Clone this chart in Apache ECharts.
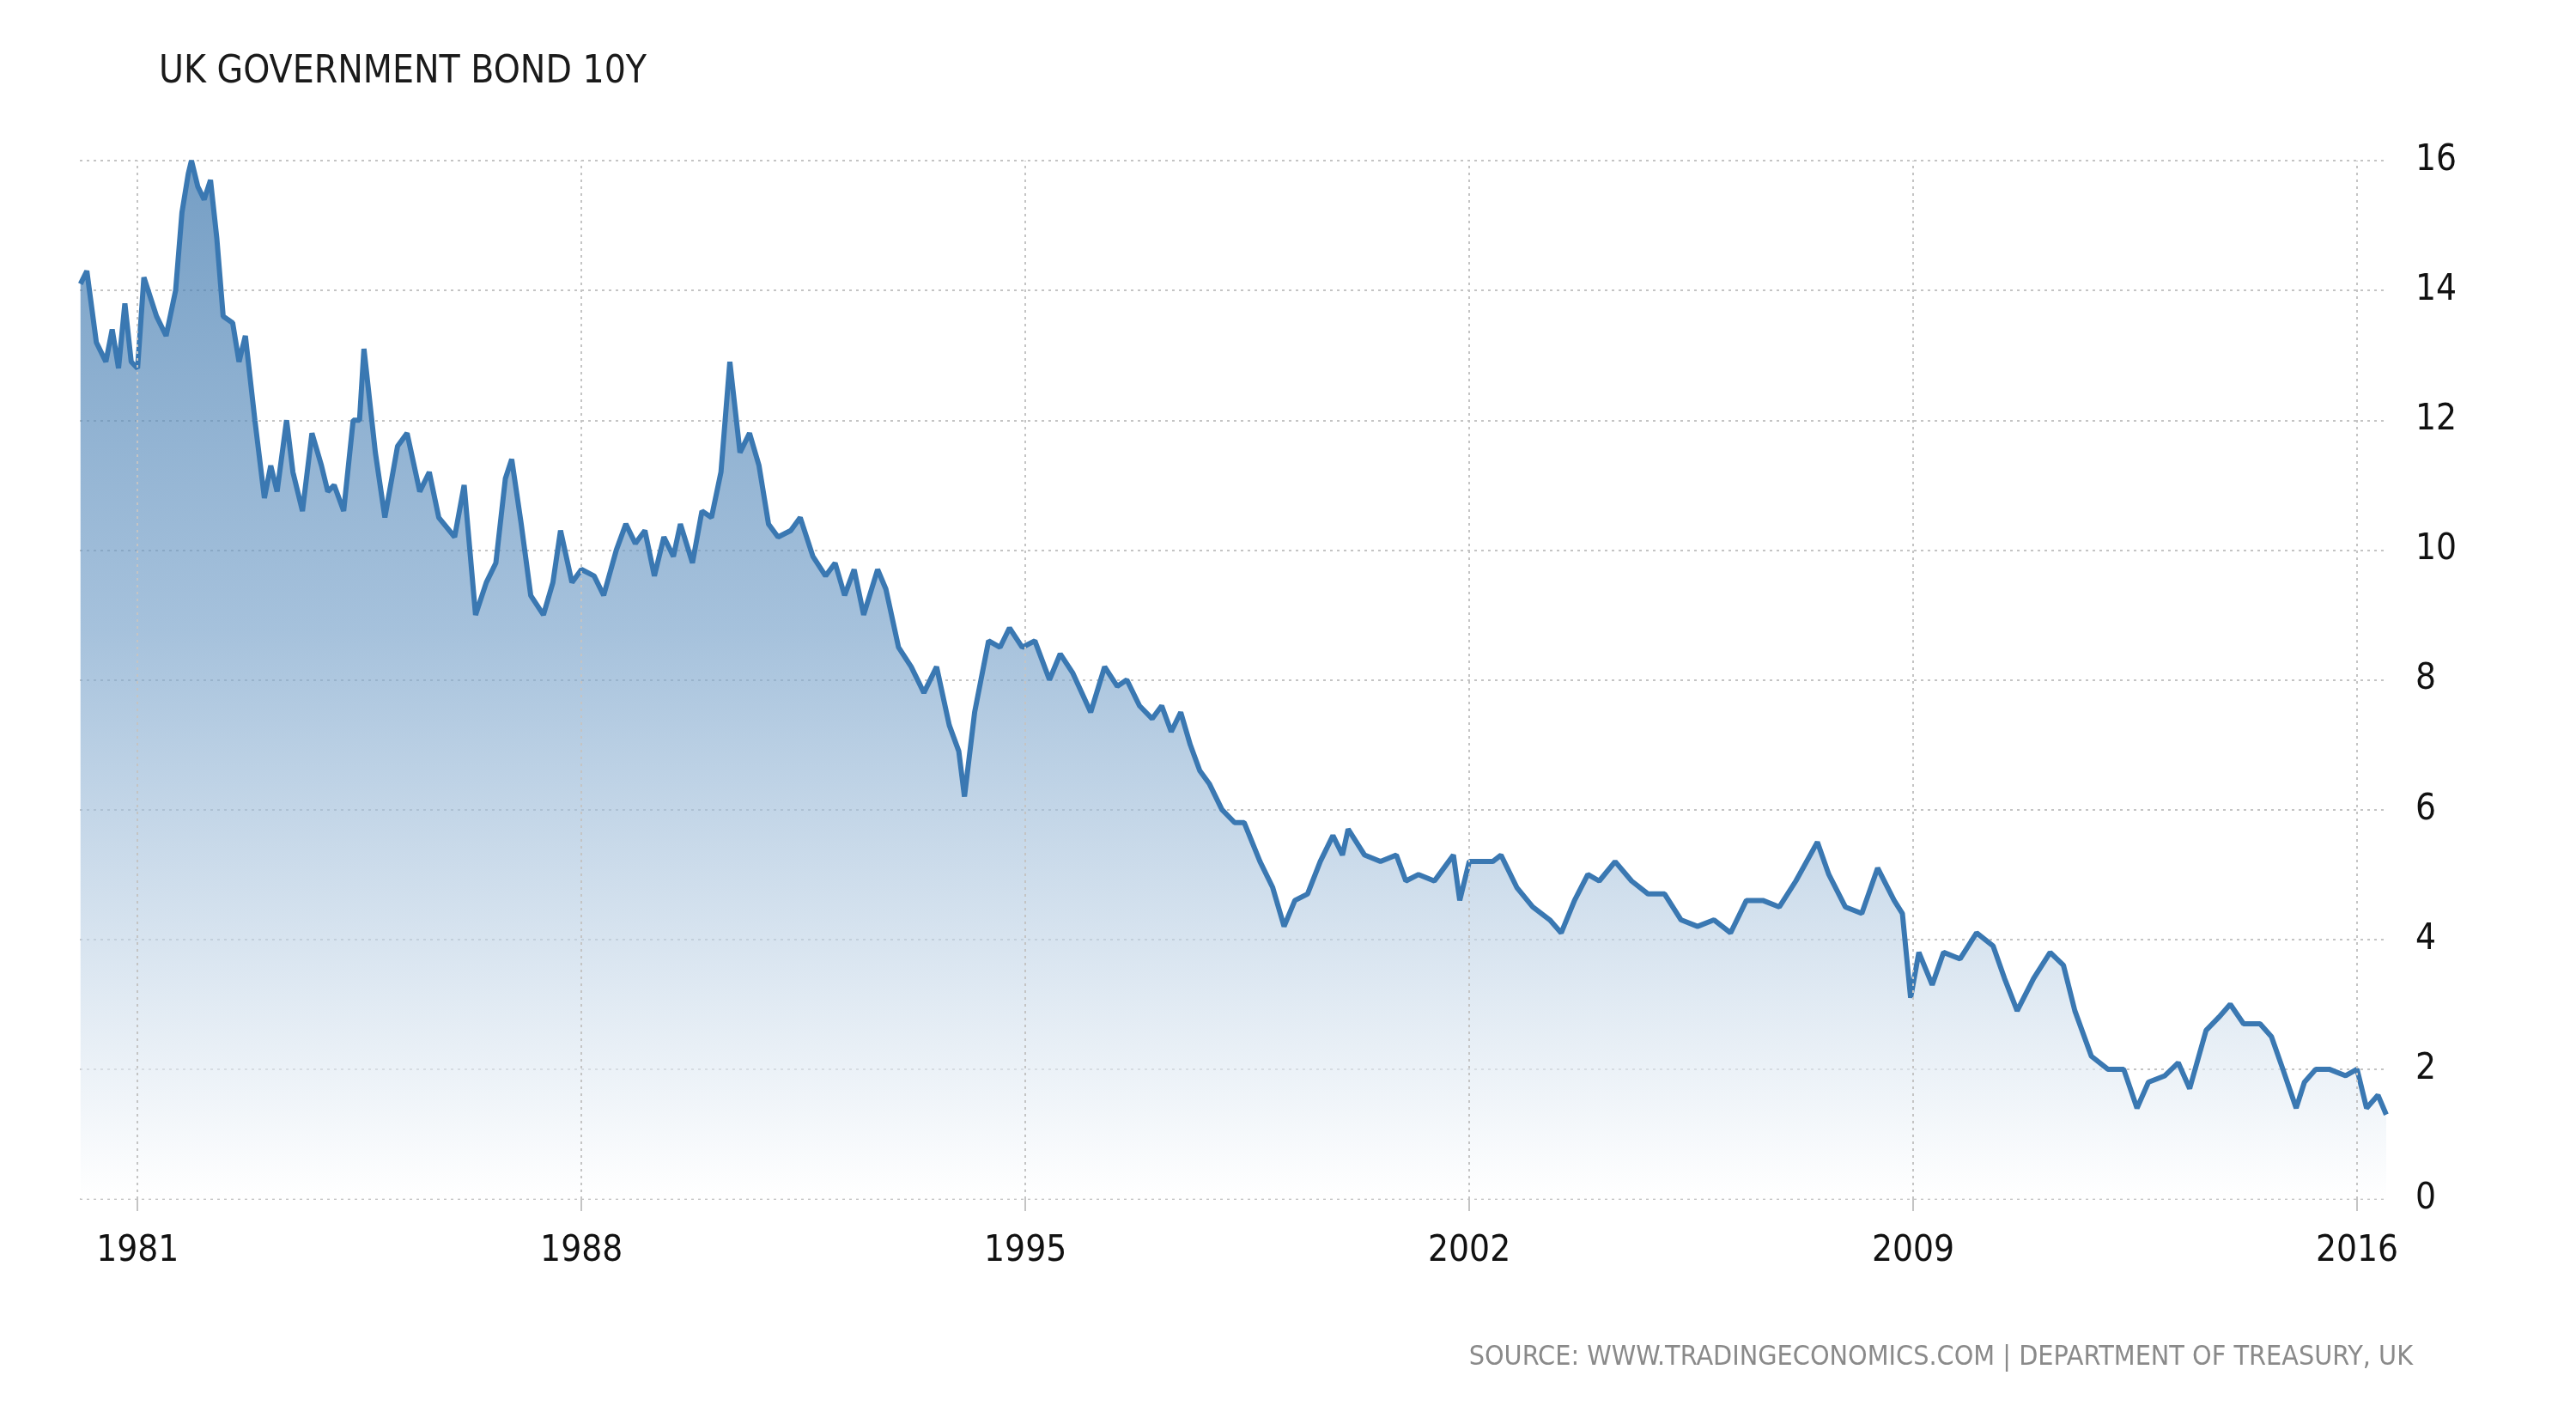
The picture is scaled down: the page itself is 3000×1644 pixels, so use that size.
<!DOCTYPE html>
<html>
<head>
<meta charset="utf-8">
<script src="https://cdn.jsdelivr.net/npm/echarts@6/dist/echarts.min.js"></script>
<style>
  html, body { margin: 0; padding: 0; background: #fff; }
  #chart { width: 3000px; height: 1644px; }
</style>
</head>
<body>
<div id="chart"></div>
<script>
// years (decimal) and yields (%)
var years = [
  1980.1, 1980.2, 1980.35, 1980.5, 1980.6, 1980.7, 1980.8, 1980.9, 1981.0, 1981.1,
  1981.3, 1981.45, 1981.6, 1981.7, 1981.8, 1981.85, 1981.95, 1982.05, 1982.15, 1982.25,
  1982.35, 1982.5, 1982.6, 1982.7, 1982.85, 1983.0, 1983.1, 1983.2, 1983.35, 1983.45,
  1983.6, 1983.75, 1983.9, 1984.0, 1984.1, 1984.25, 1984.4, 1984.5, 1984.57, 1984.75,
  1984.9, 1985.1, 1985.25, 1985.45, 1985.6, 1985.75, 1986.0, 1986.15, 1986.33, 1986.5,
  1986.65, 1986.8, 1986.9, 1987.05, 1987.2, 1987.4, 1987.55, 1987.67, 1987.85, 1988.0,
  1988.2, 1988.35, 1988.55, 1988.7, 1988.85, 1989.0, 1989.15, 1989.3, 1989.45, 1989.56,
  1989.75, 1989.9, 1990.05, 1990.2, 1990.34, 1990.5, 1990.65, 1990.8, 1990.95, 1991.1,
  1991.3, 1991.45, 1991.65, 1991.85, 1992.0, 1992.15, 1992.3, 1992.45, 1992.67, 1992.8,
  1993.0, 1993.2, 1993.4, 1993.6, 1993.8, 1993.95, 1994.04, 1994.2, 1994.42, 1994.6,
  1994.75, 1994.95, 1995.15, 1995.38, 1995.55, 1995.75, 1996.03, 1996.25, 1996.45, 1996.6,
  1996.8, 1997.0, 1997.15, 1997.3, 1997.45, 1997.6, 1997.75, 1997.9, 1998.1, 1998.3,
  1998.45, 1998.7, 1998.9, 1999.08, 1999.25, 1999.45, 1999.65, 1999.85, 2000.0, 2000.09,
  2000.35, 2000.6, 2000.85, 2001.0, 2001.2, 2001.45, 2001.6, 2001.75, 2001.85, 2002.0,
  2002.37, 2002.5, 2002.75, 2003.0, 2003.27, 2003.45, 2003.66, 2003.87, 2004.05, 2004.3,
  2004.56, 2004.82, 2005.08, 2005.34, 2005.6, 2005.86, 2006.12, 2006.37, 2006.63, 2006.89,
  2007.15, 2007.49, 2007.67, 2007.93, 2008.19, 2008.44, 2008.7, 2008.83, 2008.96, 2009.09,
  2009.3, 2009.48, 2009.74, 2010.0, 2010.26, 2010.44, 2010.64, 2010.9, 2011.16, 2011.37,
  2011.55, 2011.81, 2012.07, 2012.32, 2012.53, 2012.71, 2012.97, 2013.18, 2013.36, 2013.62,
  2013.82, 2014.0, 2014.21, 2014.47, 2014.65, 2014.83, 2015.04, 2015.17, 2015.35, 2015.56,
  2015.82, 2016.0, 2016.15, 2016.33, 2016.46
];
var yields = [
  14.1, 14.3, 13.2, 12.9, 13.4, 12.8, 13.8, 12.9, 12.8, 14.2,
  13.6, 13.3, 14.0, 15.2, 15.8, 16.0, 15.6, 15.4, 15.7, 14.8,
  13.6, 13.5, 12.9, 13.3, 12.0, 10.8, 11.3, 10.9, 12.0, 11.2,
  10.6, 11.8, 11.3, 10.9, 11.0, 10.6, 12.0, 12.0, 13.1, 11.5,
  10.5, 11.6, 11.8, 10.9, 11.2, 10.5, 10.2, 11.0, 9.0, 9.5,
  9.8, 11.1, 11.4, 10.4, 9.3, 9.0, 9.5, 10.3, 9.5, 9.7,
  9.6, 9.3, 10.0, 10.4, 10.1, 10.3, 9.6, 10.2, 9.9, 10.4,
  9.8, 10.6, 10.5, 11.2, 12.9, 11.5, 11.8, 11.3, 10.4, 10.2,
  10.3, 10.5, 9.9, 9.6, 9.8, 9.3, 9.7, 9.0, 9.7, 9.4,
  8.5, 8.2, 7.8, 8.2, 7.3, 6.9, 6.2, 7.5, 8.6, 8.5,
  8.8, 8.5, 8.6, 8.0, 8.4, 8.1, 7.5, 8.2, 7.9, 8.0,
  7.6, 7.4, 7.6, 7.2, 7.5, 7.0, 6.6, 6.4, 6.0, 5.8,
  5.8, 5.2, 4.8, 4.2, 4.6, 4.7, 5.2, 5.6, 5.3, 5.7,
  5.3, 5.2, 5.3, 4.9, 5.0, 4.9, 5.1, 5.3, 4.6, 5.2,
  5.2, 5.3, 4.8, 4.5, 4.3, 4.1, 4.6, 5.0, 4.9, 5.2,
  4.9, 4.7, 4.7, 4.3, 4.2, 4.3, 4.1, 4.6, 4.6, 4.5,
  4.9, 5.5, 5.0, 4.5, 4.4, 5.1, 4.6, 4.4, 3.1, 3.8,
  3.3, 3.8, 3.7, 4.1, 3.9, 3.4, 2.9, 3.4, 3.8, 3.6,
  2.9, 2.2, 2.0, 2.0, 1.4, 1.8, 1.9, 2.1, 1.7, 2.6,
  2.8, 3.0, 2.7, 2.7, 2.5, 2.0, 1.4, 1.8, 2.0, 2.0,
  1.9, 2.0, 1.4, 1.6, 1.3
];
var yearTicks = [1981, 1988, 1995, 2002, 2009, 2016];

var chart = echarts.init(document.getElementById('chart'));

var gridStyle = { color: '#c4c4c4', width: 2, type: [3, 5] };
var font = 'DejaVu Sans Condensed';

chart.setOption({
  animation: false,
  backgroundColor: '#ffffff',
  title: [
    {
      text: 'UK GOVERNMENT BOND 10Y',
      left: 180, top: 58,
      textStyle: { fontFamily: font, fontSize: 44, fontWeight: 'normal', color: '#1a1a1a' }
    },
    {
      text: 'SOURCE: WWW.TRADINGECONOMICS.COM | DEPARTMENT OF TREASURY, UK',
      right: 185, top: 1560,
      textStyle: { fontFamily: font, fontSize: 32, fontWeight: 'normal', color: '#8a8a8a' }
    }
  ],
  grid: { left: 93, right: 221, top: 187, bottom: 248 },
  xAxis: {
    type: 'value',
    min: 1980.09,
    max: 2016.46,
    axisLine: { show: false },
    splitLine: { show: false },
    axisTick: { show: true, customValues: yearTicks, length: 14, lineStyle: { color: '#c4c4c4', width: 2 } },
    axisLabel: {
      customValues: yearTicks,
      margin: 40,
      fontFamily: font,
      fontSize: 42,
      color: '#111',
      formatter: function (v) { return String(Math.round(v)); }
    }
  },
  yAxis: {
    type: 'value',
    position: 'right',
    min: 0, max: 16, interval: 2,
    axisLine: { show: false },
    axisTick: { show: false },
    splitLine: { show: true, lineStyle: gridStyle },
    axisLabel: { margin: 34, fontFamily: font, fontSize: 42, color: '#111' }
  },
  series: [{
    type: 'line',
    data: years.map(function (y, i) { return [y, yields[i]]; }),
    showSymbol: false,
    lineStyle: { color: '#3a78b2', width: 6 },
    itemStyle: { color: '#3a78b2' },
    areaStyle: {
      color: new echarts.graphic.LinearGradient(0, 0, 0, 1, [
        { offset: 0, color: 'rgba(58,117,172,1)' },
        { offset: 0.45, color: 'rgba(120,162,202,0.95)' },
        { offset: 1, color: 'rgba(255,255,255,0.9)' }
      ])
    },
    markLine: {
      silent: true,
      symbol: 'none',
      label: { show: false },
      lineStyle: gridStyle,
      data: yearTicks.map(function (y) { return { xAxis: y }; })
    }
  }]
});
</script>
</body>
</html>
